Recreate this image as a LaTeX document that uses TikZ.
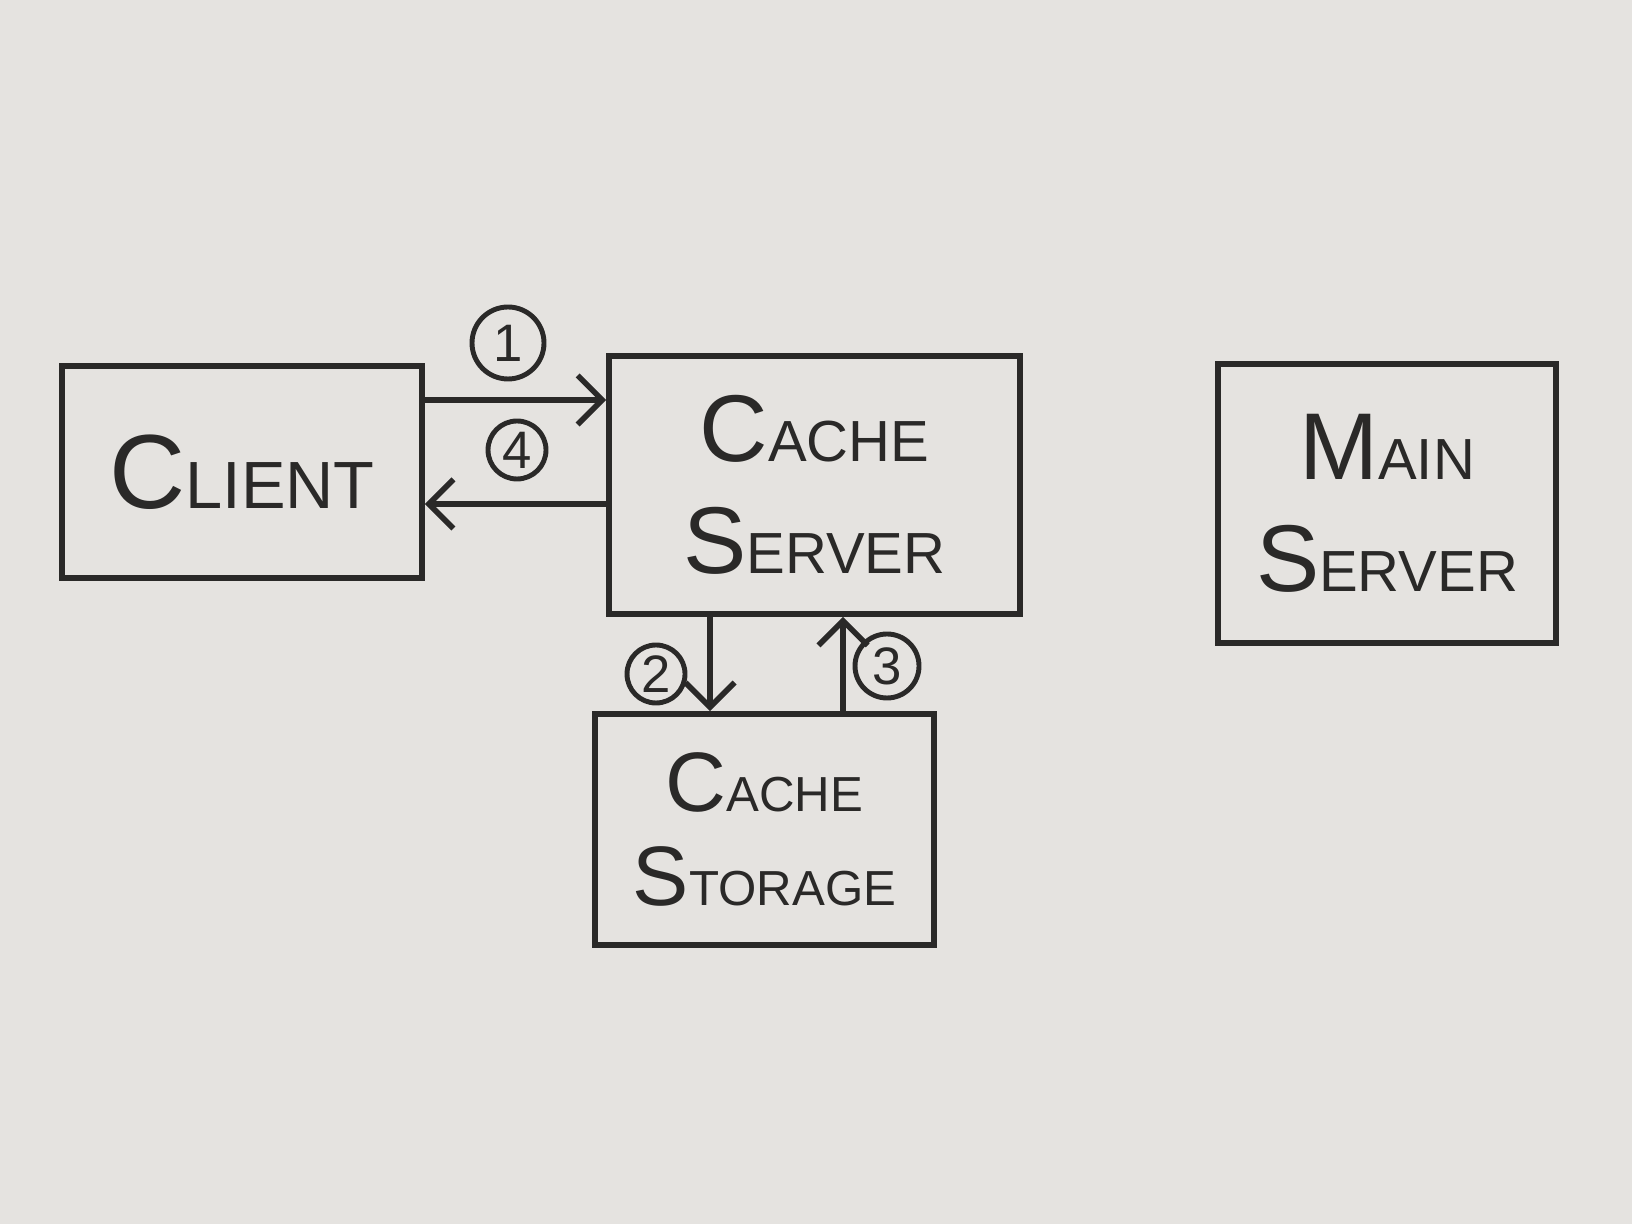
\documentclass[tikz,border=0pt]{standalone}
\usepackage{fontspec}
\setmainfont{Liberation Sans}
\usetikzlibrary{positioning,arrows.meta}
\definecolor{board}{HTML}{E5E3E0}
\definecolor{marker}{HTML}{2A2928}
\newcommand{\hwbig}[2]{{\fontsize{30}{30}\selectfont #1}{\fontsize{19}{19}\selectfont #2}}
\newcommand{\hwmid}[2]{{\fontsize{27}{27}\selectfont #1}{\fontsize{16.5}{16.5}\selectfont #2}}
\newcommand{\hwsm}[2]{{\fontsize{24}{24}\selectfont #1}{\fontsize{14}{14}\selectfont #2}}

\begin{document}
\begin{tikzpicture}[
    box/.style={draw=marker, text=marker, line width=1.6pt, align=center, inner sep=0pt, font=\fontsize{17}{32}\selectfont},
    flow/.style={-{Straight Barb[length=7pt,width=14pt]}, draw=marker, line width=1.6pt},
    num/.style={circle, draw=marker, text=marker, line width=1.4pt, inner sep=0pt, font=\fontsize{15}{15}\selectfont}]
    \fill [board] (0,0) rectangle (16.32,12.24);
    % boxes
    \node [box, minimum width=3.6cm, minimum height=2.12cm] (client) at (2.42,7.52) {\hwbig{C}{LIENT}};
    \node [box, minimum width=4.11cm, minimum height=2.58cm] (cacheserver) at (8.145,7.39) {\hwmid{C}{ACHE}\\\hwmid{S}{ERVER}};
    \node [box, minimum width=3.38cm, minimum height=2.79cm] (mainserver) at (13.87,7.205) {\hwmid{M}{AIN}\\\hwmid{S}{ERVER}};
    \node [box, minimum width=3.39cm, minimum height=2.31cm, font=\fontsize{14}{27}\selectfont] (cachestorage) at (7.645,3.945) {\hwsm{C}{ACHE}\\\hwsm{S}{TORAGE}};
    % steps
    \node [num, minimum size=0.72cm] (one) at (5.08,8.81) {1};
    \node [num, minimum size=0.58cm] (four) at (5.17,7.74) {4};
    \node [num, minimum size=0.58cm] (two) at (6.56,5.50) {2};
    \node [num, minimum size=0.64cm] (three) at (8.87,5.58) {3};
    \draw [flow] ([yshift=0.72cm]client.east) -- ([yshift=0.85cm]cacheserver.west);
    \draw [flow] ([yshift=-0.19cm]cacheserver.west) -- ([yshift=-0.32cm]client.east);
    \draw [flow] ([xshift=-1.045cm]cacheserver.south) -- ([xshift=-0.545cm]cachestorage.north);
    \draw [flow] ([xshift=0.785cm]cachestorage.north) -- ([xshift=0.285cm]cacheserver.south);
\end{tikzpicture}
\end{document}
